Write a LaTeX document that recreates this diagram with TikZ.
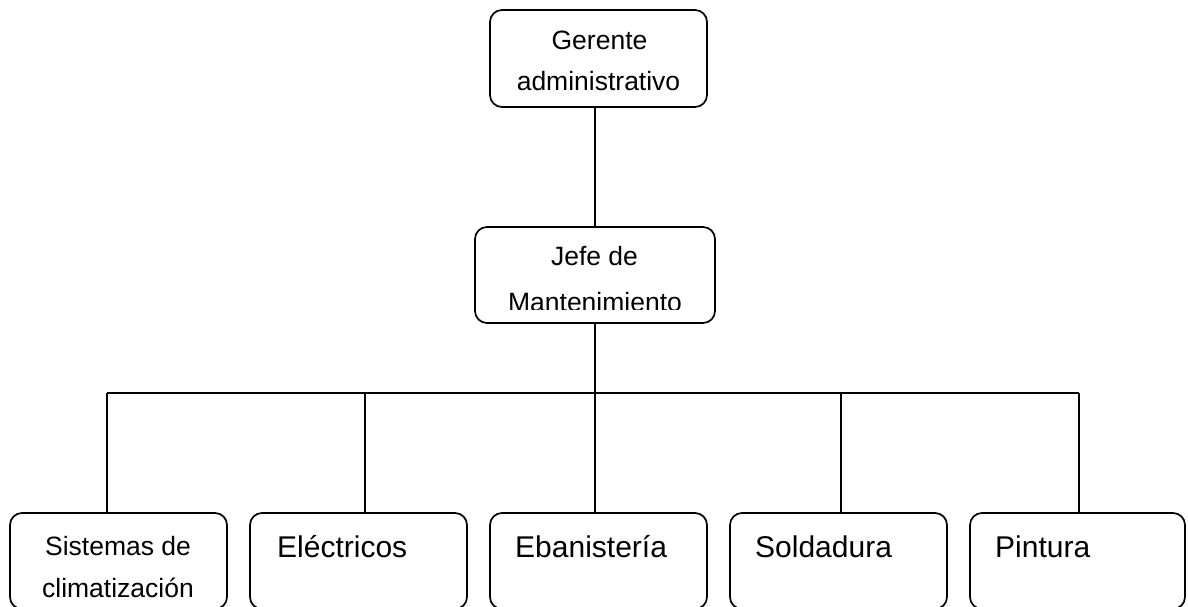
\documentclass[tikz,border=0pt]{standalone}
\usepackage{fontspec}
\setmainfont{Liberation Sans}
\begin{document}
\begin{tikzpicture}[x=1pt,y=-1pt,
  box/.style={draw, line width=1.7pt, rounded corners=12pt, minimum width=217pt, inner sep=0pt},
  lbl/.style={inner sep=0pt, anchor=base, font=\fontsize{26.5}{30}\selectfont},
  blbl/.style={inner sep=0pt, anchor=base west, font=\fontsize{30}{34}\selectfont},
  conn/.style={line width=1.7pt}]
\useasboundingbox (0,0) rectangle (1188,607);
\clip (0,0) rectangle (1188,607);
% top boxes
\node[box, minimum height=97pt] (g) at (598.5,58.5) {};
\node[box, minimum width=240pt, minimum height=96pt] (j) at (595,275) {};
% bottom boxes
\node[box, minimum height=96pt] (s1) at (118.5,561) {};
\node[box, minimum height=96pt] (s2) at (358.5,561) {};
\node[box, minimum height=96pt] (s3) at (598.5,561) {};
\node[box, minimum height=96pt] (s4) at (838.5,561) {};
\node[box, minimum width=215pt, minimum height=96pt] (s5) at (1077.5,561) {};
% texts
\node[lbl] (g1) at (599.5,50) {Gerente};
\node[lbl] (g2) at (598.5,91) {administrativo};
\node[lbl] (j1) at (594.5,265) {Jefe de};
\begin{scope}
\clip (480,280) rectangle (710,309);
\node[lbl] (j2) at (595,311) {Mantenimiento};
\end{scope}
\node[lbl] (t1a) at (118,555) {Sistemas de};
\node[lbl] (t1b) at (118,597) {climatización};
\node[blbl] (t2) at (277,557) {Eléctricos};
\node[blbl] (t3) at (515,557) {Ebanistería};
\node[blbl] (t4) at (755,557) {Soldadura};
\node[blbl] (t5) at (995,557) {Pintura};
% bus coordinates
\coordinate (bl) at (107,393);
\coordinate (br) at (1079,393);
\coordinate (c2) at (365,393);
\coordinate (c4) at (841,393);
% connectors
\draw[conn] (j.north |- g.south) -- (j.north);
\draw[conn] (j.south) -- (j.south |- s3.north);
\draw[conn] (bl) -- (br);
\draw[conn] (bl) -- (bl |- s1.north);
\draw[conn] (c2) -- (c2 |- s2.north);
\draw[conn] (c4) -- (c4 |- s4.north);
\draw[conn] (br) -- (br |- s5.north);
\end{tikzpicture}
\end{document}
